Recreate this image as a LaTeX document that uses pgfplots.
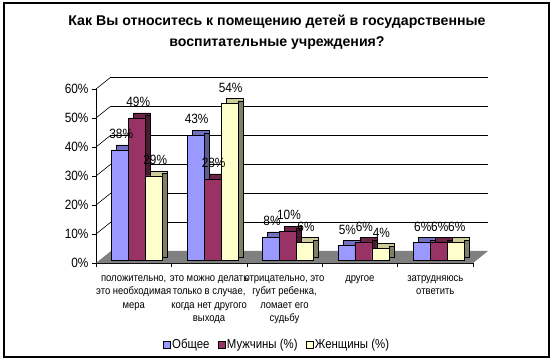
\documentclass[border=0pt]{standalone}
\usepackage{pgfplots}
\usepackage{pgfplotstable}
\pgfplotsset{compat=1.18}
\usepackage{fontspec}
\setmainfont{Liberation Sans}[FakeStretch=0.88]
\newfontfamily\titlefont{Liberation Sans}

\definecolor{obF}{HTML}{9999FF}
\definecolor{obS}{HTML}{5C5C8F}
\definecolor{obT}{HTML}{7070C0}
\definecolor{muF}{HTML}{993366}
\definecolor{muS}{HTML}{4D1933}
\definecolor{muT}{HTML}{6B2447}
\definecolor{zhF}{HTML}{FFFFCC}
\definecolor{zhS}{HTML}{808066}
\definecolor{zhT}{HTML}{CCCC99}
\definecolor{floorC}{HTML}{808080}

\pgfplotstableread{
x ob mu zh
0 38 49 29
1 43 28 54
2 8 10 6
3 5 6 4
4 6 6 6
}\data

\begin{document}
\begin{tikzpicture}
\useasboundingbox (0,0) rectangle (554bp,364bp);
\draw[line width=1.1bp] (4bp,7bp) rectangle (549bp,361bp);
\node[font=\titlefont\bfseries\fontsize{14.2}{21}\selectfont, align=center] at (277bp,332bp)
  {Как Вы относитесь к помещению детей в государственные\\воспитательные учреждения?};
\begin{axis}[
  at={(96bp,101bp)}, anchor=south west,
  scale only axis, width=377bp, height=174bp,
  xmin=-0.5, xmax=4.5, ymin=0, ymax=60,
  clip=false,
  axis x line*=bottom, axis y line*=left,
  axis line style={-, black, line width=0.8bp},
  tick align=outside, major tick length=4bp,
  tick style={black, line width=0.6bp},
  ytick={0,10,...,60},
  yticklabels={0\%,10\%,20\%,30\%,40\%,50\%,60\%},
  yticklabel style={font=\fontsize{13.5}{15}\selectfont},
  xtick={-0.5,0.5,...,4.5},
  x tick label as interval,
  xticklabels={{положительно,\\это необходимая\\мера},{это можно делать\\только в случае,\\когда нет другого\\выхода},{отрицательно, это\\губит ребенка,\\ломает его\\судьбу},{другое},{затрудняюсь\\ответить}},
  xticklabel style={align=center, font=\fontsize{10.8}{13.5}\selectfont, yshift=-5bp},
  /pgf/number format/assume math mode=true,
  nodes near coords={\pgfmathprintnumber{\pgfplotspointmeta}\%},
  every node near coord/.append style={font=\fontsize{13.5}{15}\selectfont, anchor=center, yshift=16bp, text=black},
  legend style={at={(0.48,-0.47)}, anchor=center, draw=none, legend columns=-1,
    font=\fontsize{13}{15}\selectfont,
    /tikz/every even column/.append style={column sep=6bp}},
  legend image code/.code={\draw[#1] (0bp,-3.5bp) rectangle (7bp,3.5bp);},
]
% floor
\fill[floorC] (axis cs:-0.5,0) -- ([shift={(15bp,12bp)}]axis cs:-0.5,0) -- ([shift={(15bp,12bp)}]axis cs:4.5,0) -- (axis cs:4.5,0) -- cycle;
% walls
\pgfplotsinvokeforeach{10,20,30,40,50,60}{
  \draw[black, line width=0.8bp] ([shift={(15bp,12bp)}]axis cs:-0.5,#1) -- ([shift={(15bp,12bp)}]axis cs:4.5,#1);
  \draw[black, line width=0.6bp] (axis cs:-0.5,#1) -- ([shift={(15bp,12bp)}]axis cs:-0.5,#1);
}
% Общее
\addplot[ybar, forget plot, bar width=17bp, bar shift=-8.5bp, yshift=8bp, fill=obT, draw=black, line width=0.5bp, nodes near coords=] table[x=x,y=ob] {\data};
\addplot[ybar, forget plot, bar width=5bp, bar shift=-2.5bp, yshift=5.5bp, fill=obS, draw=black, line width=0.5bp, nodes near coords=] table[x=x,y=ob] {\data};
\addplot[ybar, forget plot, bar width=17bp, bar shift=-13.5bp, yshift=3bp, fill=obF, draw=black, line width=0.5bp,
  every node near coord/.append style={xshift=-12.5bp}] table[x=x,y=ob] {\data};
% Мужчины
\addplot[ybar, forget plot, bar width=17bp, bar shift=8.5bp, yshift=8bp, fill=muT, draw=black, line width=0.5bp, nodes near coords=] table[x=x,y=mu] {\data};
\addplot[ybar, forget plot, bar width=5bp, bar shift=14.5bp, yshift=5.5bp, fill=muS, draw=black, line width=0.5bp, nodes near coords=] table[x=x,y=mu] {\data};
\addplot[ybar, forget plot, bar width=17bp, bar shift=3.5bp, yshift=3bp, fill=muF, draw=black, line width=0.5bp,
  every node near coord/.append style={xshift=4.5bp}] table[x=x,y=mu] {\data};
% Женщины
\addplot[ybar, forget plot, bar width=17bp, bar shift=25.5bp, yshift=8bp, fill=zhT, draw=black, line width=0.5bp, nodes near coords=] table[x=x,y=zh] {\data};
\addplot[ybar, forget plot, bar width=5bp, bar shift=31.5bp, yshift=5.5bp, fill=zhS, draw=black, line width=0.5bp, nodes near coords=] table[x=x,y=zh] {\data};
\addplot[ybar, forget plot, bar width=17bp, bar shift=20.5bp, yshift=3bp, fill=zhF, draw=black, line width=0.5bp,
  every node near coord/.append style={xshift=21.5bp}] table[x=x,y=zh] {\data};
\addlegendimage{fill=obF, draw=black}
\addlegendentry{Общее}
\addlegendimage{fill=muF, draw=black}
\addlegendentry{Мужчины (\%)}
\addlegendimage{fill=zhF, draw=black}
\addlegendentry{Женщины (\%)}
\end{axis}
\end{tikzpicture}
\end{document}
